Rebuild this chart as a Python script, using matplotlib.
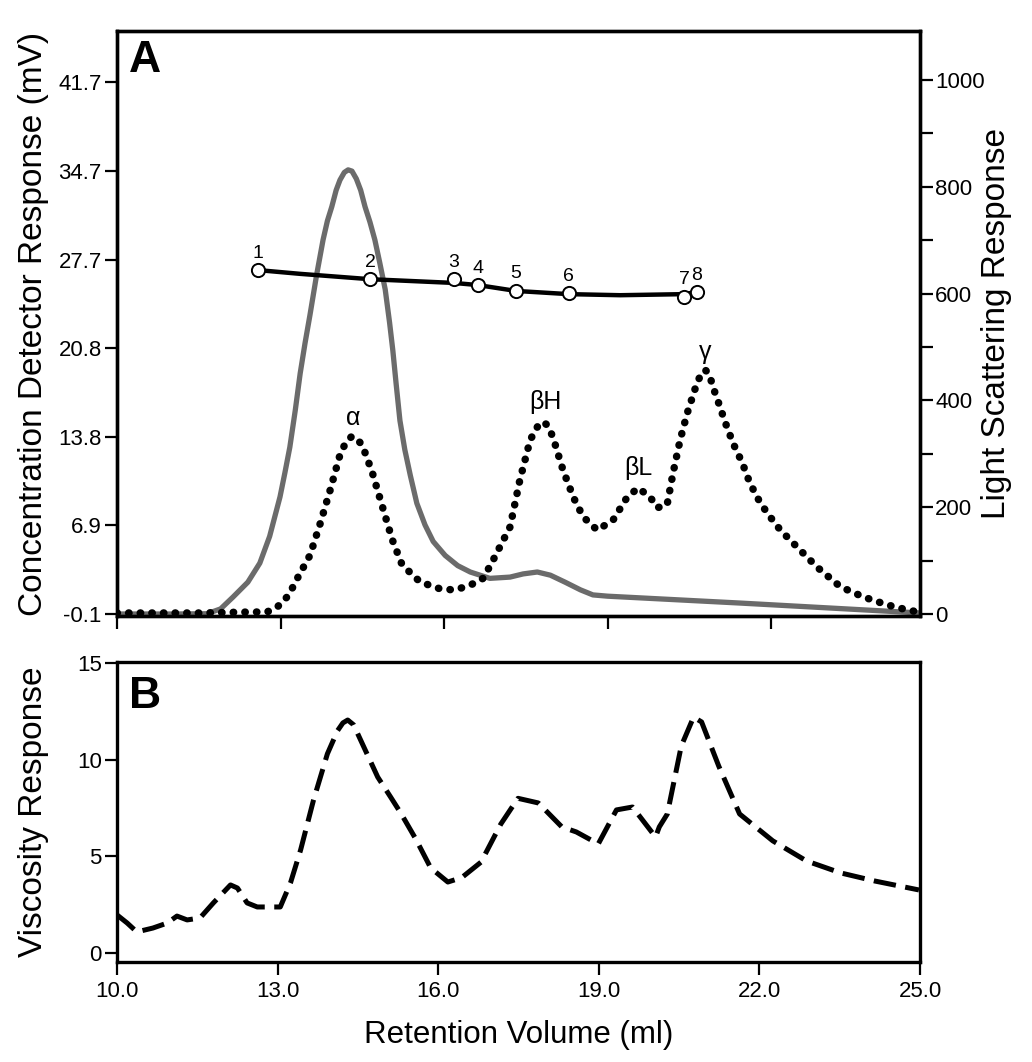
import matplotlib
matplotlib.use('Agg')
import matplotlib.pyplot as plt
from matplotlib.ticker import FixedLocator

plt.rcParams['font.family'] = ['Liberation Sans', 'DejaVu Sans']

# concentration detector trace (grey, left axis, mV)
conc_x = [10.0, 11.0, 11.65, 11.9, 12.13, 12.4, 12.62, 12.8, 12.99, 13.08, 13.17,
          13.27, 13.36, 13.45, 13.54, 13.66, 13.78, 13.86, 13.94, 14.02, 14.09,
          14.17, 14.24, 14.31, 14.39, 14.47, 14.55, 14.64, 14.73, 14.82, 14.92,
          15.0, 15.06, 15.12, 15.19, 15.28, 15.38, 15.5, 15.65, 15.8, 16.02,
          16.25, 16.48, 16.84, 17.21, 17.45, 17.71, 17.95, 18.22, 18.5, 18.73,
          19.0, 21.43, 24.73]
conc_y = [-0.1, -0.1, -0.08, 0.3, 1.24, 2.4, 3.9, 6.0, 9.1, 11.0, 13.0,
          15.9, 18.8, 21.2, 23.4, 26.5, 29.3, 30.8, 31.9, 33.2, 34.0,
          34.6, 34.8, 34.7, 34.1, 33.2, 31.9, 30.7, 29.3, 27.5, 25.4,
          22.8, 20.6, 18.0, 15.1, 12.8, 10.8, 8.6, 6.9, 5.6, 4.5,
          3.7, 3.2, 2.7, 2.8, 3.05, 3.2, 2.95, 2.4, 1.8, 1.4,
          1.3, 0.76, -0.02]

# light scattering trace (dotted, right axis)
ls_x = [10.0, 11.52, 12.44, 12.75, 12.94, 13.12, 13.23, 13.32, 13.54, 13.72, 13.91,
        14.09, 14.2, 14.31, 14.40, 14.50, 14.68, 14.86, 15.05, 15.23, 15.56, 15.93, 16.20,
        16.48, 16.72, 16.90, 17.21, 17.39, 17.58, 17.72, 17.82, 17.91, 18.00, 18.18, 18.37,
        18.55, 18.81, 19.10, 19.36, 19.56, 19.78, 19.91, 20.09, 20.20, 20.33,
        20.46, 20.64, 20.72, 20.79, 20.86, 20.94, 21.03, 21.16, 21.30, 21.47, 21.61, 21.80,
        21.98, 22.17, 22.48, 22.84, 23.27, 23.69, 24.13, 24.50, 24.70]
ls_y = [1.9, 1.9, 3.7, 3.7, 13, 32, 51, 69, 110, 167, 232,
        298, 322, 333, 328, 316, 266, 204, 139, 92, 60, 47, 45,
        54, 67, 101, 163, 251, 326, 352, 360, 352, 330, 270, 219,
        182, 157, 176, 219, 236, 219, 199, 204, 264, 326,
        376, 433, 450, 457, 450, 423, 397, 358, 320, 283, 245, 208,
        182, 157, 125, 88, 51, 32, 17, 7.5, 3.7]

# molar mass line and the numbered slices (right axis units)
mw_x = [12.59, 13.36, 14.64, 16.18, 16.62, 17.32, 18.29, 19.23, 20.40, 20.64]
mw_y = [644, 637, 627, 620, 616, 605, 599, 597, 599, 603]
slice_x = [12.59, 14.64, 16.18, 16.62, 17.32, 18.29, 20.40, 20.64]
slice_y = [644, 627, 627, 616, 605, 601, 594, 603]
slice_labels = ['1', '2', '3', '4', '5', '6', '7', '8']

peak_labels = ['\u03b1', '\u03b2H', '\u03b2L', '\u03b3']
peak_x = [14.33, 17.85, 19.56, 20.79]
peak_y = [367, 397, 273, 491]

# viscosity trace (panel B)
visc_x = [10.0, 10.19, 10.37, 10.67, 10.94, 11.12, 11.31, 11.55, 11.80, 12.12,
          12.25, 12.43, 12.62, 13.05, 13.24, 13.43, 13.67, 13.93, 14.12, 14.22, 14.31,
          14.42, 14.61, 14.87, 15.11, 15.30, 15.58, 15.86, 16.18, 16.44, 16.80,
          17.17, 17.49, 17.87, 18.31, 18.58, 18.99, 19.33, 19.63, 20.06, 20.13,
          20.28, 20.54, 20.77, 20.92, 21.24, 21.63, 22.25, 22.88, 23.52, 24.16,
          24.98]
visc_y = [1.97, 1.55, 1.09, 1.29, 1.55, 1.91, 1.71, 1.81, 2.59, 3.52,
          3.36, 2.59, 2.38, 2.38, 3.62, 5.33, 7.9, 10.3, 11.5, 11.9, 12.05,
          11.8, 10.66, 9.1, 8.07, 7.24, 5.9, 4.4, 3.67, 3.9, 4.7,
          6.67, 8.0, 7.76, 6.52, 6.26, 5.64, 7.4, 7.55, 6.0, 6.52,
          7.19, 10.7, 12.2, 11.95, 9.67, 7.19, 5.8, 4.76, 4.14, 3.72,
          3.26]

conc_ticks = [-0.1, 6.9, 13.8, 20.8, 27.7, 34.7, 41.7]
ls_ticks = [0, 200, 400, 600, 800, 1000]
x_ticks = [10, 13, 16, 19, 22, 25]
visc_ticks = [0, 5, 10, 15]

W, H = 1032, 1062
fig = plt.figure(figsize=(W / 100, H / 100), dpi=100)

def frac(l, t, r, b):
    return [l / W, 1 - b / H, (r - l) / W, (b - t) / H]

def style_axes(ax):
    for s in ax.spines.values():
        s.set_linewidth(2.4)
    ax.tick_params(direction='out', length=9, width=1.6, labelsize=16, pad=2)

# ---- panel A ----
ax = fig.add_axes(frac(117, 31, 920, 616))
axr = ax.twinx()
style_axes(ax)
style_axes(axr)

ax.plot(conc_x, conc_y, color='#6b6b6b', lw=3.8, solid_capstyle='round',
        solid_joinstyle='round')
ax.set_xlim(10, 24.73)
ax.set_ylim(-0.257, 45.71)
ax.set_yticks(conc_ticks)
ax.set_yticklabels(['%.1f' % v for v in conc_ticks])
ax.set_xticks(x_ticks[:-1])
ax.set_xticklabels([])
ax.set_ylabel('Concentration Detector Response (mV)', fontsize=24)
ax.yaxis.set_label_coords(-0.085, 0.5)
ax.text(0.015, 0.985, 'A', transform=ax.transAxes, fontsize=32,
        fontweight='bold', ha='left', va='top')

axr.plot(ls_x, ls_y, color='black', lw=5.4, linestyle=(0, (0.05, 1.5)),
         dash_capstyle='round')
axr.plot(mw_x, mw_y, color='black', lw=3.2, solid_joinstyle='round')
axr.plot(slice_x, slice_y, 'o', ms=9.5, mfc='white', mec='black', mew=1.4)
for sx, sy, lab in zip(slice_x, slice_y, slice_labels):
    axr.annotate(lab, (sx, sy), xytext=(0, 9), textcoords='offset points',
                 ha='center', va='baseline', fontsize=14)
for px, py, lab in zip(peak_x, peak_y, peak_labels):
    axr.text(px, py, lab, ha='center', va='center', fontsize=18)
axr.set_ylim(-3.75, 1091.8)
axr.set_yticks(ls_ticks)
axr.yaxis.set_minor_locator(FixedLocator([100, 300, 500, 700, 900]))
axr.tick_params(which='minor', direction='out', length=9, width=1.6)
axr.set_ylabel('Light Scattering Response', fontsize=24)
axr.yaxis.set_label_coords(1.076, 0.5)

# ---- panel B ----
bx = fig.add_axes(frac(117, 662, 920, 962))
style_axes(bx)
bx.plot(visc_x, visc_y, color='black', lw=3.6, linestyle=(0, (4.5, 1.9)),
        solid_joinstyle='round', dash_joinstyle='round')
bx.set_xlim(10, 25)
bx.set_ylim(-0.466, 15.05)
bx.set_xticks(x_ticks)
bx.set_xticklabels(['%.1f' % v for v in x_ticks])
bx.set_yticks(visc_ticks)
bx.tick_params(axis='x', pad=5)
bx.set_xlabel('Retention Volume (ml)', fontsize=22.5)
bx.xaxis.set_label_coords(0.5, -0.195)
bx.set_ylabel('Viscosity Response', fontsize=24)
bx.yaxis.set_label_coords(-0.085, 0.5)
bx.text(0.015, 0.955, 'B', transform=bx.transAxes, fontsize=32,
        fontweight='bold', ha='left', va='top')

fig.savefig('out.png', dpi=100)
